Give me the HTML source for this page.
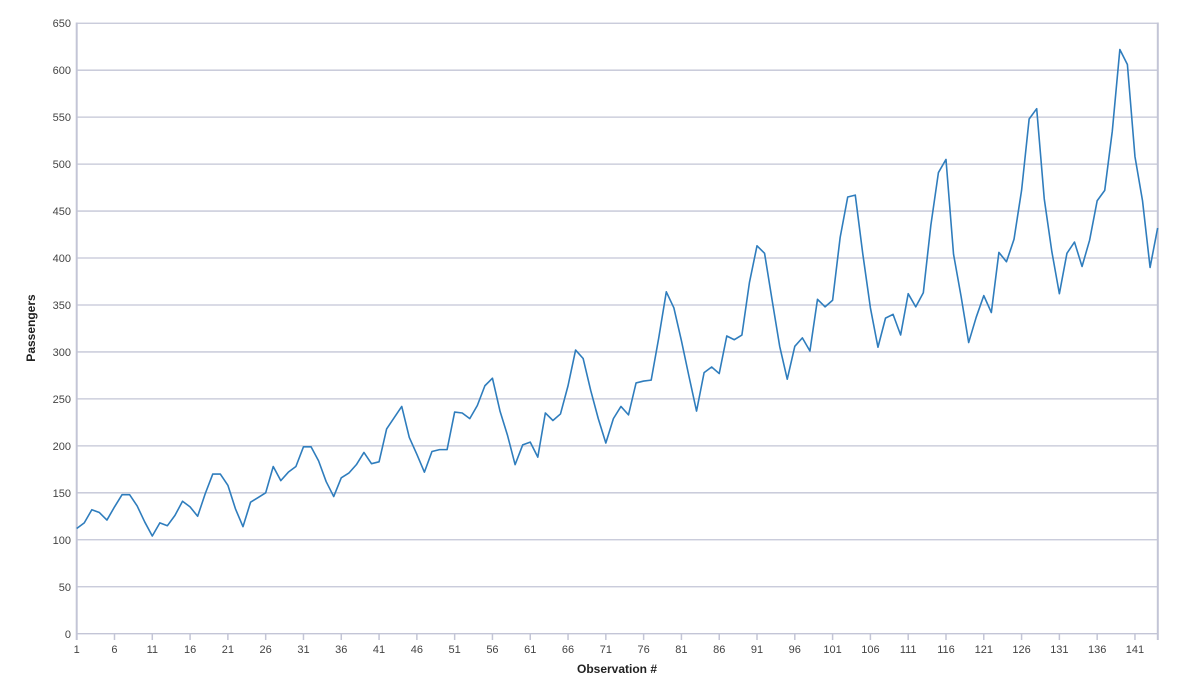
<!DOCTYPE html>
<html><head><meta charset="utf-8"><style>
html,body{margin:0;padding:0;background:#fff;}
svg{display:block;}
text{font-family:"Liberation Sans","DejaVu Sans",sans-serif;}
</style></head><body>
<svg width="1180" height="690" viewBox="0 0 1180 690" xmlns="http://www.w3.org/2000/svg">
<rect width="1180" height="690" fill="#fff"/>
<g stroke="#c3c5d6" stroke-width="1.3">
<line x1="76.7" x2="1157.7" y1="23.22" y2="23.22"/>
<line x1="76.7" x2="1157.7" y1="70.18" y2="70.18"/>
<line x1="76.7" x2="1157.7" y1="117.14" y2="117.14"/>
<line x1="76.7" x2="1157.7" y1="164.1" y2="164.1"/>
<line x1="76.7" x2="1157.7" y1="211.06" y2="211.06"/>
<line x1="76.7" x2="1157.7" y1="258.02" y2="258.02"/>
<line x1="76.7" x2="1157.7" y1="304.98" y2="304.98"/>
<line x1="76.7" x2="1157.7" y1="351.94" y2="351.94"/>
<line x1="76.7" x2="1157.7" y1="398.9" y2="398.9"/>
<line x1="76.7" x2="1157.7" y1="445.86" y2="445.86"/>
<line x1="76.7" x2="1157.7" y1="492.82" y2="492.82"/>
<line x1="76.7" x2="1157.7" y1="539.78" y2="539.78"/>
<line x1="76.7" x2="1157.7" y1="586.74" y2="586.74"/>
<line x1="76.7" x2="1157.7" y1="633.7" y2="633.7"/>
</g>
<g stroke="#c3c5d6" stroke-width="2">
<line x1="76.7" x2="76.7" y1="22.5" y2="640"/>
<line x1="1157.8" x2="1157.8" y1="22.5" y2="640"/>
</g>
<g stroke="#c3c5d6" stroke-width="1.5">
<line x1="114.49" x2="114.49" y1="633.7" y2="640"/>
<line x1="152.29" x2="152.29" y1="633.7" y2="640"/>
<line x1="190.08" x2="190.08" y1="633.7" y2="640"/>
<line x1="227.88" x2="227.88" y1="633.7" y2="640"/>
<line x1="265.68" x2="265.68" y1="633.7" y2="640"/>
<line x1="303.47" x2="303.47" y1="633.7" y2="640"/>
<line x1="341.27" x2="341.27" y1="633.7" y2="640"/>
<line x1="379.06" x2="379.06" y1="633.7" y2="640"/>
<line x1="416.86" x2="416.86" y1="633.7" y2="640"/>
<line x1="454.65" x2="454.65" y1="633.7" y2="640"/>
<line x1="492.45" x2="492.45" y1="633.7" y2="640"/>
<line x1="530.24" x2="530.24" y1="633.7" y2="640"/>
<line x1="568.04" x2="568.04" y1="633.7" y2="640"/>
<line x1="605.83" x2="605.83" y1="633.7" y2="640"/>
<line x1="643.63" x2="643.63" y1="633.7" y2="640"/>
<line x1="681.42" x2="681.42" y1="633.7" y2="640"/>
<line x1="719.22" x2="719.22" y1="633.7" y2="640"/>
<line x1="757.01" x2="757.01" y1="633.7" y2="640"/>
<line x1="794.81" x2="794.81" y1="633.7" y2="640"/>
<line x1="832.6" x2="832.6" y1="633.7" y2="640"/>
<line x1="870.4" x2="870.4" y1="633.7" y2="640"/>
<line x1="908.19" x2="908.19" y1="633.7" y2="640"/>
<line x1="945.99" x2="945.99" y1="633.7" y2="640"/>
<line x1="983.78" x2="983.78" y1="633.7" y2="640"/>
<line x1="1021.58" x2="1021.58" y1="633.7" y2="640"/>
<line x1="1059.37" x2="1059.37" y1="633.7" y2="640"/>
<line x1="1097.17" x2="1097.17" y1="633.7" y2="640"/>
<line x1="1134.96" x2="1134.96" y1="633.7" y2="640"/>
</g>
<g font-size="11" fill="#444" text-anchor="end">
<text x="71" y="27">650</text>
<text x="71" y="74">600</text>
<text x="71" y="121">550</text>
<text x="71" y="168">500</text>
<text x="71" y="215">450</text>
<text x="71" y="262">400</text>
<text x="71" y="309">350</text>
<text x="71" y="356">300</text>
<text x="71" y="403">250</text>
<text x="71" y="450">200</text>
<text x="71" y="497">150</text>
<text x="71" y="544">100</text>
<text x="71" y="591">50</text>
<text x="71" y="638">0</text>
</g>
<g font-size="11" fill="#444" text-anchor="middle">
<text x="76.7" y="653">1</text>
<text x="114.49" y="653">6</text>
<text x="152.29" y="653">11</text>
<text x="190.08" y="653">16</text>
<text x="227.88" y="653">21</text>
<text x="265.68" y="653">26</text>
<text x="303.47" y="653">31</text>
<text x="341.27" y="653">36</text>
<text x="379.06" y="653">41</text>
<text x="416.86" y="653">46</text>
<text x="454.65" y="653">51</text>
<text x="492.45" y="653">56</text>
<text x="530.24" y="653">61</text>
<text x="568.04" y="653">66</text>
<text x="605.83" y="653">71</text>
<text x="643.63" y="653">76</text>
<text x="681.42" y="653">81</text>
<text x="719.22" y="653">86</text>
<text x="757.01" y="653">91</text>
<text x="794.81" y="653">96</text>
<text x="832.6" y="653">101</text>
<text x="870.4" y="653">106</text>
<text x="908.19" y="653">111</text>
<text x="945.99" y="653">116</text>
<text x="983.78" y="653">121</text>
<text x="1021.58" y="653">126</text>
<text x="1059.37" y="653">131</text>
<text x="1097.17" y="653">136</text>
<text x="1134.96" y="653">141</text>
</g>
<text x="617" y="673" font-size="12" font-weight="bold" fill="#222" text-anchor="middle">Observation #</text>
<text transform="translate(35,328) rotate(-90)" font-size="12" font-weight="bold" fill="#222" text-anchor="middle">Passengers</text>
<g transform="matrix(7.559 0 0 -0.9392 69.141 633.7)">
<polyline fill="none" stroke="#2f7dbd" stroke-width="1.6" stroke-linejoin="round" vector-effect="non-scaling-stroke" points="1,112 2,118 3,132 4,129 5,121 6,135 7,148 8,148 9,136 10,119 11,104 12,118 13,115 14,126 15,141 16,135 17,125 18,149 19,170 20,170 21,158 22,133 23,114 24,140 25,145 26,150 27,178 28,163 29,172 30,178 31,199 32,199 33,184 34,162 35,146 36,166 37,171 38,180 39,193 40,181 41,183 42,218 43,230 44,242 45,209 46,191 47,172 48,194 49,196 50,196 51,236 52,235 53,229 54,243 55,264 56,272 57,237 58,211 59,180 60,201 61,204 62,188 63,235 64,227 65,234 66,264 67,302 68,293 69,259 70,229 71,203 72,229 73,242 74,233 75,267 76,269 77,270 78,315 79,364 80,347 81,312 82,274 83,237 84,278 85,284 86,277 87,317 88,313 89,318 90,374 91,413 92,405 93,355 94,306 95,271 96,306 97,315 98,301 99,356 100,348 101,355 102,422 103,465 104,467 105,404 106,347 107,305 108,336 109,340 110,318 111,362 112,348 113,363 114,435 115,491 116,505 117,404 118,359 119,310 120,337 121,360 122,342 123,406 124,396 125,420 126,472 127,548 128,559 129,463 130,407 131,362 132,405 133,417 134,391 135,419 136,461 137,472 138,535 139,622 140,606 141,508 142,461 143,390 144,432"/>
</g>
</svg>
</body></html>
